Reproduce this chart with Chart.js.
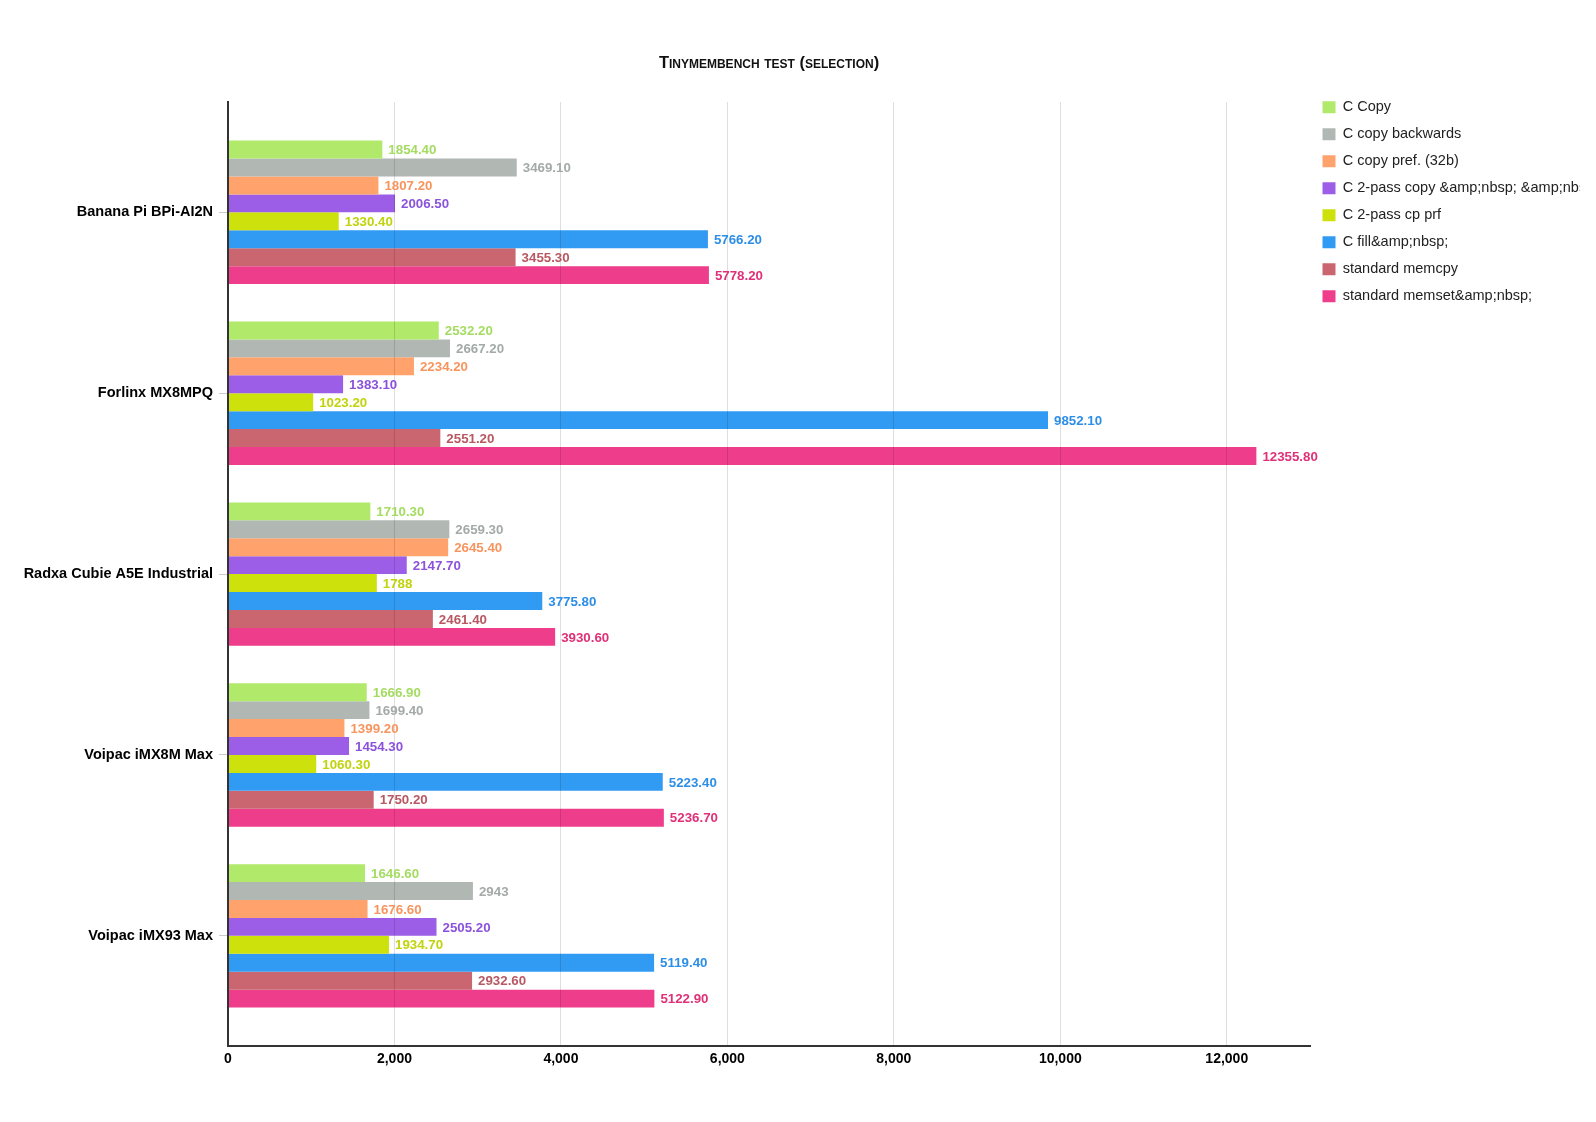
<!DOCTYPE html>
<html>
<head>
<meta charset="utf-8">
<title>Tinymembench test (selection)</title>
<script src="https://cdn.jsdelivr.net/npm/chart.js@4/dist/chart.umd.min.js"></script>
<style>
  html, body { margin: 0; padding: 0; background: #fff; }
  canvas { display: block; }
</style>
</head>
<body>
<canvas id="tinymembench" width="1596" height="1122"></canvas>
<script>
const boards = [
  "Banana Pi BPi-AI2N",
  "Forlinx MX8MPQ",
  "Radxa Cubie A5E Industrial",
  "Voipac iMX8M Max",
  "Voipac iMX93 Max",
];

const seriesNames = [
  "C Copy",
  "C copy backwards",
  "C copy pref. (32b)",
  "C 2-pass copy &amp;nbsp; &amp;nbsp;",
  "C 2-pass cp prf",
  "C fill&amp;nbsp;",
  "standard memcpy",
  "standard memset&amp;nbsp;",
];

// one array per series, one value per board (MB/s)
const cCopy = [1854.4, 2532.2, 1710.3, 1666.9, 1646.6];
const cCopyBackwards = [3469.1, 2667.2, 2659.3, 1699.4, 2943];
const cCopyPref = [1807.2, 2234.2, 2645.4, 1399.2, 1676.6];
const c2PassCopy = [2006.5, 1383.1, 2147.7, 1454.3, 2505.2];
const c2PassCpPrf = [1330.4, 1023.2, 1788, 1060.3, 1934.7];
const cFill = [5766.2, 9852.1, 3775.8, 5223.4, 5119.4];
const stdMemcpy = [3455.3, 2551.2, 2461.4, 1750.2, 2932.6];
const stdMemset = [5778.2, 12355.8, 3930.6, 5236.7, 5122.9];

const xTicks = [0, 2000, 4000, 6000, 8000, 10000, 12000];

const barColors = ["#b1e96b", "#b1b8b4", "#ffa26b", "#9c5ee6", "#cde10d", "#319bf4", "#c9666f", "#ee3d8b"];
const labelColors = ["#a4dc62", "#a3aaa7", "#f7955f", "#8b52dc", "#c0d30c", "#2d8ee6", "#b85862", "#df3078"];

const allSeries = [cCopy, cCopyBackwards, cCopyPref, c2PassCopy, c2PassCpPrf, cFill, stdMemcpy, stdMemset];

const fmt = (v) => (Number.isInteger(v) ? String(v) : v.toFixed(2));

const font = "'Liberation Sans', Arial, sans-serif";

const valueLabels = {
  id: "valueLabels",
  afterDraw(chart) {
    const { ctx } = chart;
    ctx.save();
    ctx.font = "bold 13.3px " + font;
    ctx.textAlign = "left";
    ctx.textBaseline = "middle";
    chart.data.datasets.forEach((ds, i) => {
      const meta = chart.getDatasetMeta(i);
      meta.data.forEach((bar, j) => {
        ctx.fillStyle = labelColors[i];
        ctx.fillText(fmt(ds.data[j].x), bar.x + 6, bar.y + 1);
      });
    });
    ctx.restore();
  },
};

// the original legend text is cut off before the right edge
const clipRight = {
  id: "clipRight",
  beforeDraw(chart) {
    chart.ctx.save();
    chart.ctx.beginPath();
    chart.ctx.rect(0, 0, 1580, chart.height);
    chart.ctx.clip();
  },
  afterDraw(chart) {
    chart.ctx.restore();
  },
};

Chart.defaults.font.family = font;
Chart.defaults.color = "#111";

const ctx = document.getElementById("tinymembench");

new Chart(ctx, {
  type: "bar",
  data: {
    datasets: seriesNames.map((name, i) => ({
      label: name,
      data: allSeries[i].map((v, j) => ({ x: v, y: j })),
      backgroundColor: barColors[i],
      borderWidth: 0,
    })),
  },
  options: {
    indexAxis: "y",
    responsive: false,
    animation: false,
    devicePixelRatio: 1,
    locale: "en-US",
    layout: { padding: { top: 0, left: 0, right: 0, bottom: 49 } },
    datasets: {
      bar: { categoryPercentage: 0.793, barPercentage: 1 },
    },
    scales: {
      x: {
        type: "linear",
        position: "bottom",
        min: 0,
        max: 13000,
        afterBuildTicks: (axis) => {
          axis.ticks = xTicks.map((v) => ({ value: v }));
        },
        ticks: {
          padding: 5,
          color: "#000",
          font: { size: 14, weight: "bold" },
        },
        grid: { color: "rgba(0,0,0,0.13)", lineWidth: 1, drawTicks: false, z: 1 },
        border: { display: true, color: "#333", width: 2, z: 1 },
      },
      y: {
        type: "linear",
        reverse: true,
        offset: false,
        min: -0.61,
        max: 4.61,
        afterBuildTicks: (axis) => {
          axis.ticks = boards.map((_, i) => ({ value: i }));
        },
        afterFit: (axis) => {
          axis.width = 228;
        },
        ticks: {
          padding: 6,
          color: "#000",
          font: { size: 14.5, weight: "bold" },
          callback: (v) => boards[v],
        },
        grid: { offset: false, drawOnChartArea: false, drawTicks: true, tickLength: 9, color: "#cccccc", z: 1 },
        border: { display: true, color: "#333", width: 2, z: 1 },
      },
    },
    plugins: {
      title: {
        display: true,
        text: "Tinymembench test (selection)",
        fullSize: false,
        color: "#111",
        font: { size: 16.5, weight: "small-caps bold" },
        padding: { top: 53.5, bottom: 28.7 },
      },
      legend: {
        position: "right",
        align: "start",
        maxWidth: 286,
        title: { display: true, text: " ", font: { size: 15 }, padding: { top: 69.5, bottom: 0 } },
        labels: {
          boxWidth: 13,
          boxHeight: 12,
          padding: 12.5,
          color: "#222",
          font: { size: 14.5 },
        },
      },
      tooltip: { enabled: false },
    },
  },
  plugins: [clipRight, valueLabels],
});
</script>
</body>
</html>
